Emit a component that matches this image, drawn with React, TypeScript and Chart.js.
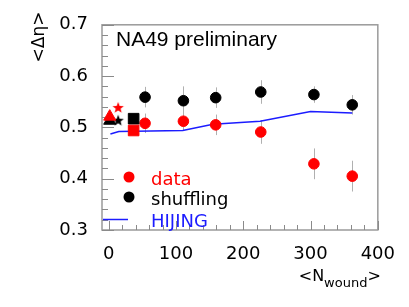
import React, { useEffect, useRef } from "react";
import { Chart, registerables } from "chart.js";
Chart.register(...registerables);

// ---- data ----
const nWound = [54, 111, 159, 226, 305, 362];
const dataValues = [0.508, 0.512, 0.505, 0.491, 0.429, 0.405];
const dataErrors = [0.019, 0.019, 0.02, 0.023, 0.03, 0.03];
const shufflingValues = [0.559, 0.552, 0.558, 0.569, 0.564, 0.544];
const shufflingErrors = [0.02, 0.028, 0.02, 0.023, 0.016, 0.019];
const hijingX = [2.5, 15, 110, 155, 225, 300, 362];
const hijingY = [0.487, 0.492, 0.494, 0.506, 0.512, 0.531, 0.528];
// small systems (C+C, Si+Si, ...)
const triangleX = 1.5;
const triangleData = 0.521;
const triangleShuffle = 0.513;
const starX = 14;
const starData = 0.538;
const starShuffle = 0.513;
const squareX = 37;
const squareData = 0.494;
const squareShuffle = 0.517;

const xTicks = [0, 100, 200, 300, 400];
const yTicks = [0.3, 0.4, 0.5, 0.6, 0.7];
const xMinorStep = 20;
const yMinorStep = 0.02;

const RED = "#ff0000";
const BLACK = "#000000";
const BLUE = "#1c1cff";
const FONT = "'DejaVu Sans', sans-serif";

function makeStar(color: string, r: number): HTMLCanvasElement {
  const c = document.createElement("canvas");
  const s = Math.ceil(r * 2 + 2);
  c.width = s;
  c.height = s;
  const ctx = c.getContext("2d")!;
  ctx.fillStyle = color;
  ctx.beginPath();
  for (let i = 0; i < 10; i++) {
    const rad = i % 2 === 0 ? r : r * 0.42;
    const a = -Math.PI / 2 + (i * Math.PI) / 5;
    const x = s / 2 + rad * Math.cos(a);
    const y = s / 2 + rad * Math.sin(a);
    if (i === 0) ctx.moveTo(x, y);
    else ctx.lineTo(x, y);
  }
  ctx.closePath();
  ctx.fill();
  return c;
}

const decorPlugin = {
  id: "decor",
  beforeDatasetsDraw(chart: any) {
    const { ctx, chartArea: a } = chart;
    const xs = chart.scales.x;
    const ys = chart.scales.y;
    ctx.save();
    // frame
    ctx.strokeStyle = "#9a9a9a";
    ctx.lineWidth = 1.5;
    ctx.strokeRect(a.left, a.top, a.right - a.left, a.bottom - a.top);
    // inner ticks
    ctx.strokeStyle = "#8a8a8a";
    ctx.lineWidth = 1;
    for (let v = ys.min; v <= ys.max + 1e-9; v += yMinorStep) {
      const major = Math.abs(v * 10 - Math.round(v * 10)) < 1e-6;
      const y = Math.round(ys.getPixelForValue(v)) + 0.5;
      ctx.beginPath();
      ctx.moveTo(a.left, y);
      ctx.lineTo(a.left + (major ? 12 : 6), y);
      ctx.stroke();
    }
    for (let v = 0; v <= xs.max + 1e-9; v += xMinorStep) {
      const major = v % 100 === 0;
      const x = Math.round(xs.getPixelForValue(v)) + 0.5;
      ctx.beginPath();
      ctx.moveTo(x, a.bottom);
      ctx.lineTo(x, a.bottom - (major ? 9 : 5));
      ctx.stroke();
    }
    // error bars
    ctx.strokeStyle = "#b0b0b0";
    ctx.lineWidth = 1;
    const bars = (vals: number[], errs: number[]) => {
      nWound.forEach((xv, i) => {
        const x = Math.round(xs.getPixelForValue(xv)) + 0.5;
        ctx.beginPath();
        ctx.moveTo(x, ys.getPixelForValue(vals[i] - errs[i]));
        ctx.lineTo(x, ys.getPixelForValue(vals[i] + errs[i]));
        ctx.stroke();
      });
    };
    bars(dataValues, dataErrors);
    bars(shufflingValues, shufflingErrors);
    ctx.restore();
  },
  afterDraw(chart: any) {
    const { ctx, chartArea: a } = chart;
    ctx.save();
    // title
    ctx.fillStyle = BLACK;
    ctx.font = "21px 'Liberation Sans', Arial, sans-serif";
    ctx.textAlign = "left";
    ctx.textBaseline = "alphabetic";
    ctx.fillText("NA49 preliminary", a.left + 14, a.top + 21);
    // legend
    const lx = a.left + 27;
    const tx = a.left + 49;
    ctx.font = "18px " + FONT;
    ctx.textBaseline = "alphabetic";
    ctx.fillStyle = RED;
    ctx.beginPath();
    ctx.arc(lx, 177, 5.5, 0, Math.PI * 2);
    ctx.fill();
    ctx.fillText("data", tx, 185);
    ctx.fillStyle = BLACK;
    ctx.beginPath();
    ctx.arc(lx, 197, 5.5, 0, Math.PI * 2);
    ctx.fill();
    ctx.fillText("shuffling", tx, 205);
    ctx.strokeStyle = BLUE;
    ctx.lineWidth = 1.5;
    ctx.beginPath();
    ctx.moveTo(a.left + 1, 219.5);
    ctx.lineTo(a.left + 26, 219.5);
    ctx.stroke();
    ctx.fillStyle = BLUE;
    ctx.fillText("HIJING", tx, 227);
    // y title
    ctx.fillStyle = BLACK;
    ctx.save();
    ctx.translate(44, 37);
    ctx.rotate(-Math.PI / 2);
    ctx.font = "17px " + FONT;
    ctx.textAlign = "center";
    ctx.fillText("<\u0394\u03b7>", 0, 0);
    ctx.restore();
    // x title
    const mainF = "16px " + FONT;
    const subF = "13px " + FONT;
    ctx.font = mainF;
    const w1 = ctx.measureText("<N").width;
    const w3 = ctx.measureText(">").width;
    ctx.font = subF;
    const w2 = ctx.measureText("wound").width;
    const x0 = a.right + 3 - (w1 + w2 + w3);
    ctx.textAlign = "left";
    ctx.font = mainF;
    ctx.fillText("<N", x0, 281);
    ctx.font = subF;
    ctx.fillText("wound", x0 + w1, 287);
    ctx.font = mainF;
    ctx.fillText(">", x0 + w1 + w2, 281);
    ctx.restore();
  },
};

export default function App() {
  const ref = useRef<HTMLCanvasElement | null>(null);
  useEffect(() => {
    if (!ref.current) return;
    const redStar = makeStar(RED, 6);
    const blackStar = makeStar(BLACK, 6);
    const pt = (x: number, y: number) => [{ x, y }];
    const chart = new Chart(ref.current, {
      type: "scatter",
      data: {
        datasets: [
          {
            label: "HIJING",
            data: hijingX.map((x, i) => ({ x, y: hijingY[i] })),
            showLine: true,
            borderColor: BLUE,
            borderWidth: 1.5,
            pointRadius: 0,
            order: 10,
          },
          {
            label: "shuffling",
            data: nWound.map((x, i) => ({ x, y: shufflingValues[i] })),
            backgroundColor: BLACK,
            borderColor: BLACK,
            pointRadius: 5.3,
            order: 5,
          },
          {
            label: "data",
            data: nWound.map((x, i) => ({ x, y: dataValues[i] })),
            backgroundColor: RED,
            borderColor: RED,
            pointRadius: 5.3,
            order: 4,
          },
          {
            label: "tri shuffle",
            data: pt(triangleX, triangleShuffle),
            pointStyle: "triangle",
            backgroundColor: BLACK,
            borderColor: BLACK,
            pointRadius: 7,
            order: 3,
          },
          {
            label: "tri data",
            data: pt(triangleX, triangleData),
            pointStyle: "triangle",
            backgroundColor: RED,
            borderColor: RED,
            pointRadius: 7,
            order: 2,
          },
          {
            label: "star shuffle",
            data: pt(starX, starShuffle),
            pointStyle: blackStar as any,
            order: 3,
          },
          {
            label: "star data",
            data: pt(starX, starData),
            pointStyle: redStar as any,
            order: 2,
          },
          {
            label: "sq shuffle",
            data: pt(squareX, squareShuffle),
            pointStyle: "rect",
            backgroundColor: BLACK,
            borderColor: BLACK,
            pointRadius: 7.5,
            order: 3,
          },
          {
            label: "sq data",
            data: pt(squareX, squareData),
            pointStyle: "rect",
            backgroundColor: RED,
            borderColor: RED,
            pointRadius: 7.5,
            order: 2,
          },
        ],
      },
      options: {
        animation: false,
        responsive: false,
        events: [],
        layout: { padding: { top: 15, right: 26, left: 0, bottom: 0 } },
        plugins: { legend: { display: false }, tooltip: { enabled: false } },
        scales: {
          x: {
            type: "linear",
            min: -10,
            max: 400,
            afterBuildTicks: (s: any) => {
              s.ticks = xTicks.map((v) => ({ value: v }));
            },
            afterFit: (s: any) => {
              s.height = 77;
            },
            grid: { display: false, drawTicks: false },
            border: { display: false },
            ticks: {
              color: BLACK,
              font: { family: FONT, size: 18 },
              padding: 14,
              maxRotation: 0,
              autoSkip: false,
            },
          },
          y: {
            type: "linear",
            min: 0.3,
            max: 0.7,
            afterBuildTicks: (s: any) => {
              s.ticks = yTicks.map((v) => ({ value: v }));
            },
            afterFit: (s: any) => {
              s.width = 102;
            },
            grid: { display: false, drawTicks: false },
            border: { display: false },
            ticks: {
              color: BLACK,
              font: { family: FONT, size: 18 },
              padding: 14,
              autoSkip: false,
              callback: (v: any) => Number(v).toFixed(1),
            },
          },
        },
      },
      plugins: [decorPlugin],
    } as any);
    return () => chart.destroy();
  }, []);
  return (
    <div style={{ position: "absolute", left: 0, top: 0, width: 409, height: 307, background: "#fff" }}>
      <canvas ref={ref} width={409} height={307} style={{ width: 409, height: 307 }} />
    </div>
  );
}
